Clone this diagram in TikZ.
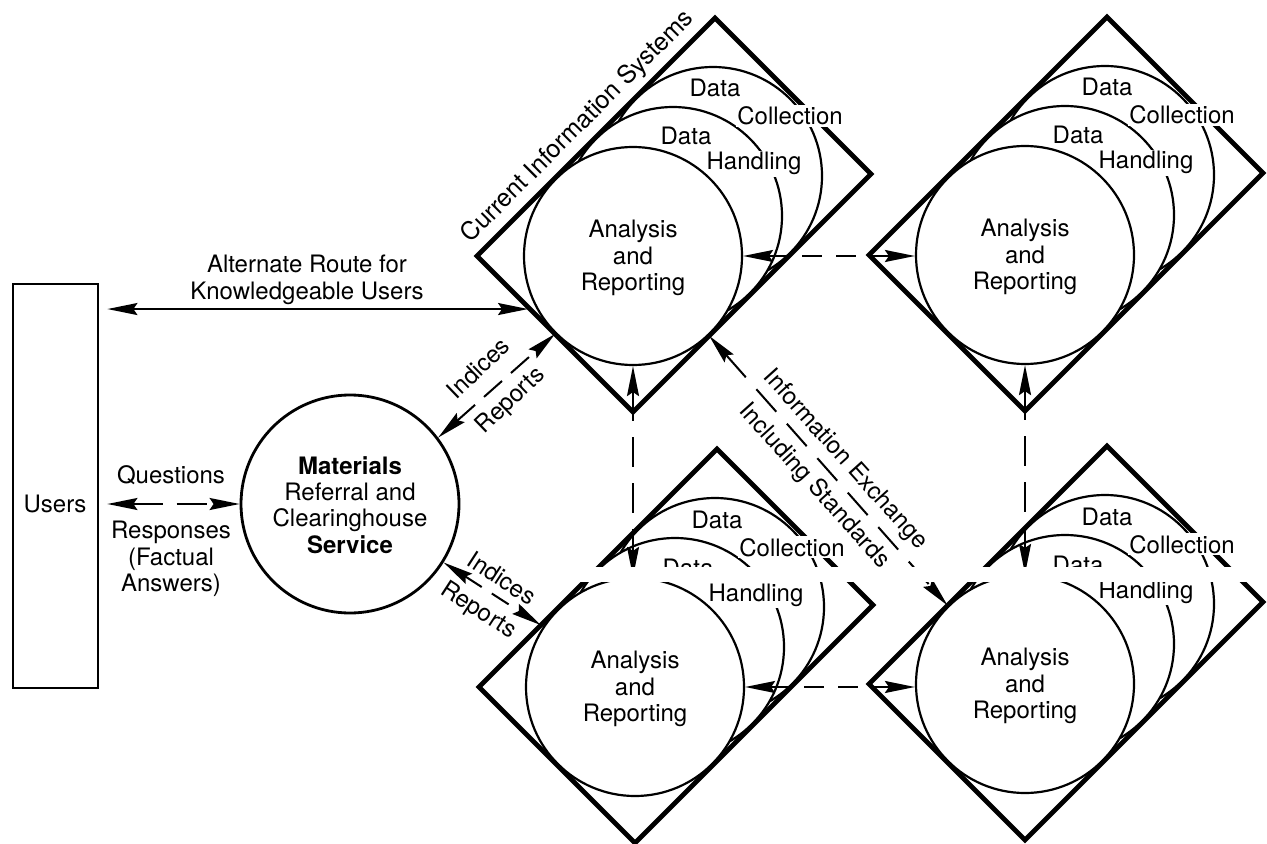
\documentclass[tikz,border=0pt]{standalone}
\usepackage{fontspec}
\setmainfont{TeX Gyre Heros}
\usetikzlibrary{arrows.meta,calc}

\tikzset{
  circ/.style={draw, line width=1.1pt, fill=white},
  dia/.style={draw, line width=2.4pt, line join=miter},
  lbl/.style={font=\fontsize{12}{13.2}\selectfont, inner sep=0.8pt},
  wlbl/.style={lbl, fill=white},
  conn/.style={line width=1pt},
  >={Stealth[length=15pt,width=6pt,inset=2pt]},
}

\newcommand\infounit[2]{%
  \begin{scope}[shift={(#2)}]
    \draw[circ] (80,-80) circle[radius=54.5pt];
    \draw[circ] (40,-40) circle[radius=54.5pt];
    \node[lbl, anchor=base] (#1-dh) at (53,-111) {Data};
    \node[wlbl, anchor=base] (#1-hh) at (121,-86) {Handling};
    \node[circ, circle, minimum size=109pt, inner sep=0pt] (#1) at (0,0) {};
    \node[lbl, align=center] (#1-txt) at (0,2) {Analysis\\and\\Reporting};
    \draw[dia] (-156,0) coordinate (#1-l) -- (82,-238) coordinate (#1-t)
      -- (238,-82) coordinate (#1-r) -- (0,156) coordinate (#1-b) -- cycle;
    \node[lbl, anchor=base] (#1-dc) at (82,-159) {Data};
    \node[wlbl, anchor=base] (#1-cc) at (157,-131) {Collection};
  \end{scope}}

\begin{document}
\begin{tikzpicture}[x=0.5pt,y=-0.5pt]
\useasboundingbox (0,0) rectangle (1267,844);

\infounit{tl}{633,256}
\infounit{tr}{1025,255}
\infounit{bl}{635,687}
\infounit{br}{1025,684}

% Users
\node[draw, line width=1.4pt, minimum width=42.5pt, minimum height=202pt, inner sep=0pt] (users) at (55.5,486) {};
\node[lbl, anchor=base] (userstxt) at (55,512) {Users};

% Materials service
\node[draw, circle, line width=1.4pt, minimum size=109pt, inner sep=0pt] (mat) at (350,504) {};
\node[lbl, align=center] (mattxt) at (350,505) {\textbf{Materials}\\Referral and\\Clearinghouse\\\textbf{Service}};

% Alternate route
\coordinate (altpt) at ($(tl-l)!0.34!(tl-b)$);
\draw[conn, <->, shorten <=4pt, shorten >=1pt] (users.east |- altpt) -- (altpt);
\node[lbl, align=center] (alttxt) at (307,280) {Alternate Route for\\Knowledgeable Users};

% Questions / responses
\draw[conn, <->, dash pattern=on 15pt off 7pt, shorten <=4pt] (users.east |- mat.west) -- (mat.west);
\node[lbl, anchor=base] (qtxt) at (171,483) {Questions};
\node[lbl, align=center] (rtxt) at (171,559) {Responses\\(Factual\\Answers)};

% Indices / reports (upper)
\draw[conn, <->, dash pattern=on 12pt off 6pt] (mat.37) -- (tl.225);
\node[lbl, rotate=44] (ind1) at (478,368) {Indices};
\node[lbl, rotate=44] (rep1) at (511,401) {Reports};

% Indices / reports (lower)
\coordinate (blin) at ($(bl-l)!0.26!(bl-t)$);
\draw[conn, <->, dash pattern=on 10pt off 6pt] (mat.-32) -- (blin);
\node[lbl, rotate=-33] (ind2) at (502,578) {Indices};
\node[lbl, rotate=-33] (rep2) at (478,611) {Reports};

% Information exchange
\coordinate (tlout) at ($(tl-b)!0.32!(tl-r)$);
\coordinate (brin) at ($(br-l)!0.33!(br-t)$);
\draw[conn, <->, dash pattern=on 15pt off 8pt] (tlout) -- (brin);
\node[lbl, rotate=-48] (info1) at (845,460) {Information Exchange};
\node[lbl, rotate=-48] (info2) at (814,486) {Including Standards};

% Title along diamond
\node[lbl, rotate=45, font=\fontsize{12.5}{14}\selectfont] (cis) at (578,127) {Current Information Systems};

% Links between systems
\draw[conn, <->, dash pattern=on 10pt off 7pt] (tl.east) -- (tl.east -| tr.west);
\draw[conn, <->, dash pattern=on 10pt off 7pt] (bl.east) -- (bl.east -| br.west);
\draw[conn, <->, dash pattern=on 15pt off 8pt] (tl.south) -- (tl.south |- bl.north);
\draw[conn, <->, dash pattern=on 15pt off 8pt] (tr.south) -- (tr.south |- br.north);

% scan gap
\fill[white] (545,567) rectangle (1267,582);
\end{tikzpicture}
\end{document}
